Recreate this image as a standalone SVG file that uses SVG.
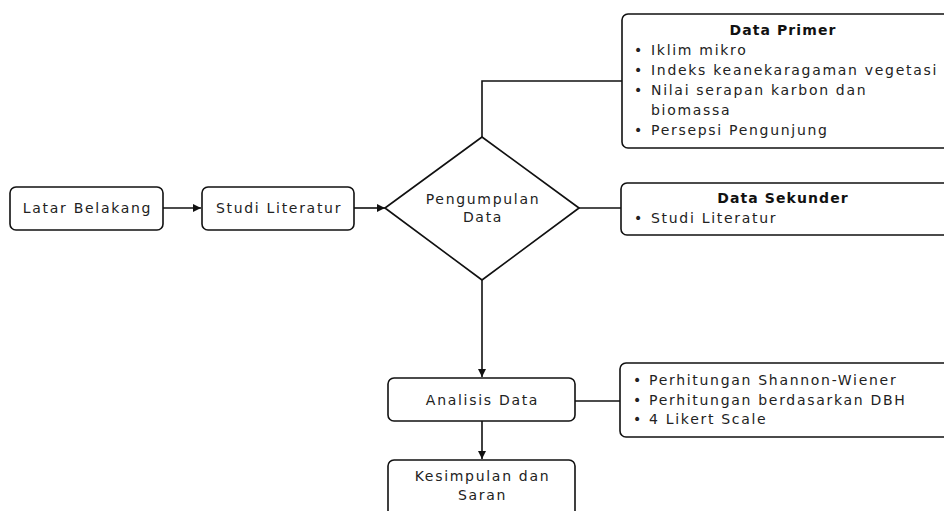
<svg xmlns="http://www.w3.org/2000/svg" width="944" height="511" viewBox="0 0 944 511">
<style>
.box{fill:#fff;stroke:#111;stroke-width:1.6}
.ln{fill:none;stroke:#111;stroke-width:1.6}
text{font-family:"DejaVu Sans","Liberation Sans",sans-serif;font-size:14px;fill:#222;letter-spacing:1.7px}
.c{text-anchor:middle}
.b{font-weight:bold;fill:#111;letter-spacing:1.1px}
</style>
<defs>
<marker id="ah" markerWidth="9" markerHeight="9" refX="8" refY="4.5" orient="auto" markerUnits="userSpaceOnUse">
<path d="M0,0.5 L8,4.5 L0,8.5 Z" fill="#111"/>
</marker>
</defs>
<rect width="944" height="511" fill="#fff"/>
<g id="connectors">
<path class="ln" d="M163,208 H201" marker-end="url(#ah)"/>
<path class="ln" d="M354,208 H385" marker-end="url(#ah)"/>
<path class="ln" d="M482,137 V81 H622"/>
<path class="ln" d="M579,208 H621"/>
<path class="ln" d="M482,280 V377" marker-end="url(#ah)"/>
<path class="ln" d="M482,421 V459" marker-end="url(#ah)"/>
<path class="ln" d="M575,401 H620"/>
</g>
<g id="latar">
<rect class="box" x="10" y="187" width="153" height="43" rx="6"/>
<text class="c" x="87.5" y="213">Latar Belakang</text>
</g>
<g id="studi">
<rect class="box" x="202" y="187" width="152" height="43" rx="6"/>
<text class="c" x="279" y="213">Studi Literatur</text>
</g>
<g id="pengumpulan">
<path class="box" d="M482,137 L579,208 L482,280 L385,208 Z" stroke-linejoin="round"/>
<text class="c" x="483" y="204">Pengumpulan</text>
<text class="c" x="483" y="222">Data</text>
</g>
<g id="primer">
<rect class="box" x="622" y="14" width="340" height="134" rx="6"/>
<text class="c b" x="783" y="35">Data Primer</text>
<text x="634" y="55">•</text><text x="651" y="55">Iklim mikro</text>
<text x="634" y="75">•</text><text x="651" y="75">Indeks keanekaragaman vegetasi</text>
<text x="634" y="95">•</text><text x="651" y="95">Nilai serapan karbon dan</text>
<text x="651" y="115">biomassa</text>
<text x="634" y="135">•</text><text x="651" y="135">Persepsi Pengunjung</text>
</g>
<g id="sekunder">
<rect class="box" x="621" y="183" width="340" height="52" rx="6"/>
<text class="c b" x="783" y="203">Data Sekunder</text>
<text x="634" y="223">•</text><text x="651" y="223">Studi Literatur</text>
</g>
<g id="analisis">
<rect class="box" x="388" y="378" width="187" height="43" rx="6"/>
<text class="c" x="482.5" y="405">Analisis Data</text>
</g>
<g id="analisis-detail">
<rect class="box" x="620" y="363" width="340" height="74" rx="6"/>
<text x="633" y="385">•</text><text x="649" y="385">Perhitungan Shannon-Wiener</text>
<text x="633" y="405">•</text><text x="649" y="405">Perhitungan berdasarkan DBH</text>
<text x="633" y="424">•</text><text x="649" y="424">4 Likert Scale</text>
</g>
<g id="kesimpulan">
<rect class="box" x="388" y="460" width="187" height="60" rx="6"/>
<text class="c" x="482.5" y="481">Kesimpulan dan</text>
<text class="c" x="482.5" y="500">Saran</text>
</g>
</svg>
